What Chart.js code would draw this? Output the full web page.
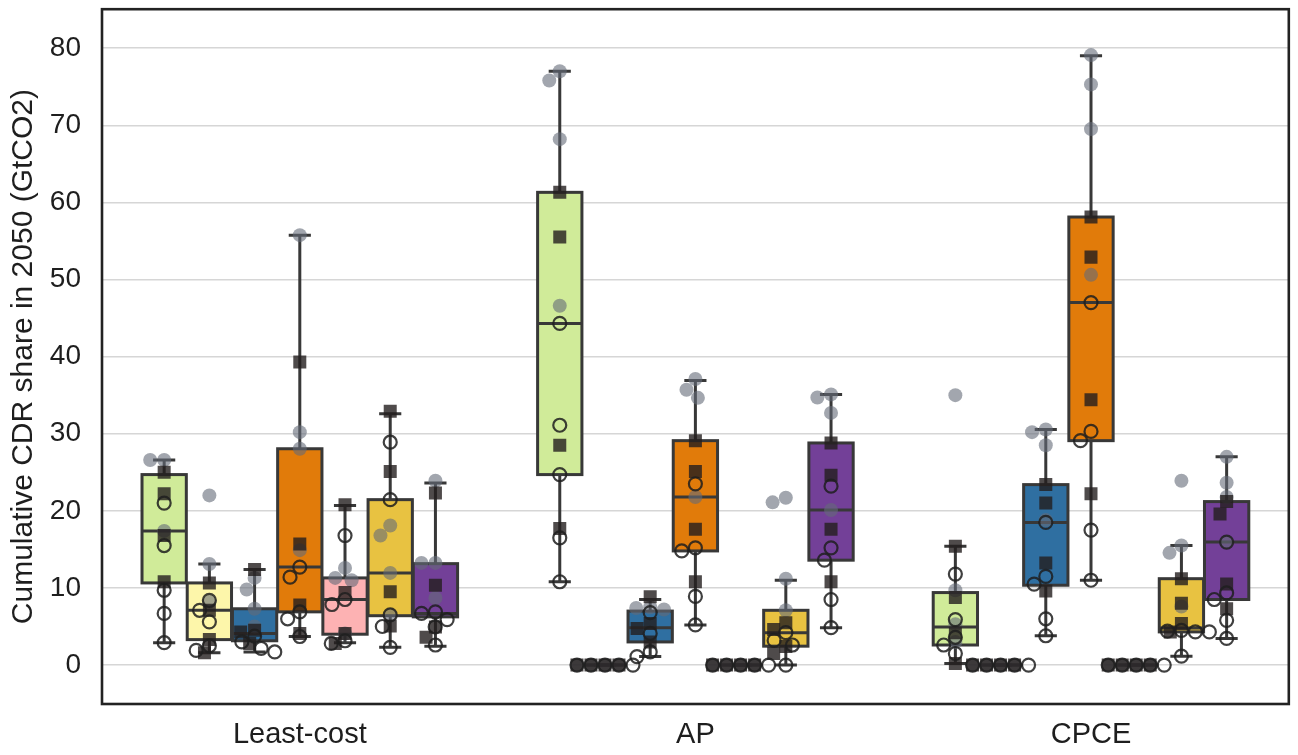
<!DOCTYPE html>
<html>
<head>
<meta charset="utf-8">
<script src="https://cdn.jsdelivr.net/npm/chart.js@4.4.1/dist/chart.umd.min.js"></script>
<style>
  html, body { margin: 0; padding: 0; background: #ffffff; }
  #wrap { width: 1298px; height: 755px; position: relative; }
</style>
</head>
<body>
<div id="wrap"><canvas id="chart"></canvas></div>
<script>
// ---- data -------------------------------------------------------------
const categories = ['Least-cost', 'AP', 'CPCE'];
const yTickValues = [0, 10, 20, 30, 40, 50, 60, 70, 80];

// Box statistics per category: [lower whisker, Q1, median, Q3, upper whisker]
// Points per category: grey = filled grey circles, square = dark squares, ring = open circles
const limeStats  = [[2.9, 10.65, 17.4, 24.7, 26.6], [10.8, 24.7, 44.3, 61.3, 77.0], [0.2, 2.6, 4.95, 9.4, 15.4]];
const limeGrey   = [[26.6, 26.6, 17.4], [77.0, 75.8, 68.2, 46.6], [35.0, 9.7, 5.3, 3.0]];
const limeSquare = [[25.0, 22.2, 16.8, 10.8], [61.3, 55.5, 28.5, 17.7], [15.4, 8.75, 4.2, 0.2]];
const limeRing   = [[21.0, 15.5, 9.7, 6.7, 2.9], [44.3, 31.1, 24.7, 16.5, 10.8], [11.8, 5.9, 3.6, 2.6, 1.5]];

const creamStats  = [[1.6, 3.3, 7.1, 10.65, 13.1], [0, 0, 0, 0, 0], [0, 0, 0, 0, 0]];
const creamGrey   = [[22.0, 13.1, 8.2], [0, 0, 0, 0], [0, 0, 0, 0]];
const creamSquare = [[10.65, 7.1, 3.3, 1.6], [0, 0, 0, 0], [0, 0, 0, 0]];
const creamRing   = [[8.4, 7.1, 5.6, 2.5, 1.9], [0, 0, 0, 0, 0], [0, 0, 0, 0, 0]];

const blueStats  = [[1.7, 3.15, 4.1, 7.3, 12.4], [1.1, 3.0, 4.85, 7.0, 8.5], [3.8, 10.35, 18.5, 23.4, 30.55]];
const blueGrey   = [[11.3, 9.8, 7.3, 5.0], [7.5, 7.4, 7.2], [30.55, 30.2, 28.5, 18.8]];
const blueSquare = [[12.4, 4.5, 4.3, 2.8], [8.85, 5.4, 4.75, 3.0], [23.4, 21.0, 13.25, 9.6]];
const blueRing   = [[3.75, 3.0, 2.15, 1.7], [6.8, 4.1, 1.7, 1.1], [18.5, 11.5, 10.5, 6.0, 3.8]];

const orangeStats  = [[3.7, 6.9, 12.7, 28.05, 55.75], [5.2, 14.8, 21.8, 29.1, 36.9], [11.0, 29.1, 47.0, 58.1, 79.0]];
const orangeGrey   = [[55.75, 30.2, 28.05, 14.9], [37.1, 35.7, 34.65, 21.8], [79.1, 75.3, 69.5, 50.6]];
const orangeSquare = [[39.3, 15.7, 7.8, 4.1], [29.1, 25.1, 17.6, 10.8], [58.1, 52.9, 34.4, 22.2]];
const orangeRing   = [[12.7, 11.4, 6.9, 6.0, 3.7], [23.5, 15.2, 14.8, 8.9, 5.2], [47.0, 30.3, 29.1, 17.5, 11.0]];

const pinkStats  = [[2.9, 4.0, 8.5, 11.3, 20.7], [0, 0, 0, 0, 0], [0, 0, 0, 0, 0]];
const pinkGrey   = [[12.6, 11.3, 11.0, 4.1], [0, 0, 0, 0], [0, 0, 0, 0]];
const pinkSquare = [[20.8, 9.4, 4.1, 2.8], [0, 0, 0, 0], [0, 0, 0, 0]];
const pinkRing   = [[16.8, 8.5, 7.85, 3.15, 2.8], [0, 0, 0, 0, 0], [0, 0, 0, 0, 0]];

const goldStats  = [[2.3, 6.4, 11.95, 21.45, 32.6], [0, 2.45, 4.2, 7.1, 11.0], [1.15, 4.3, 4.8, 11.2, 15.5]];
const goldGrey   = [[18.1, 16.8, 11.95, 6.5], [21.7, 21.1, 11.2, 7.1], [23.9, 15.5, 14.55, 7.6]];
const goldSquare = [[32.9, 25.1, 9.5, 5.05], [5.5, 4.6, 2.4, 1.5], [11.2, 8.0, 5.4, 4.3]];
const goldRing   = [[28.9, 21.45, 6.5, 5.0, 2.3], [4.2, 3.2, 2.6, 0.0], [4.5, 4.4, 4.3, 4.3, 1.15]];

const purpleStats  = [[2.45, 6.25, 6.7, 13.15, 23.6], [4.85, 13.6, 20.1, 28.8, 35.1], [3.45, 8.5, 15.95, 21.2, 27.0]];
const purpleGrey   = [[23.9, 13.25, 13.25, 8.7], [35.1, 34.7, 32.7, 20.1], [27.0, 23.65, 21.8, 15.95]];
const purpleSquare = [[22.3, 10.35, 4.95, 3.6], [28.8, 24.6, 17.6, 10.8], [21.2, 19.6, 10.5, 7.3]];
const purpleRing   = [[6.9, 6.7, 5.9, 4.95, 2.6], [23.2, 15.2, 13.6, 8.5, 4.85], [15.95, 9.35, 8.5, 5.8, 3.45]];

// ---- styling ------------------------------------------------------------
const hueFill = ['#d0eb99', '#fdf6aa', '#2f6fa1', '#e17b0a', '#fdb2b3', '#e8c241', '#734098'];
const edgeColor = '#383838';
const FONT = "'Liberation Sans', Arial, Helvetica, sans-serif";
const TEXT = '#1e1e1e';
const GROUP_WIDTH = 0.8;
const N_HUES = 7;
const SLOT = GROUP_WIDTH / N_HUES;
const MARK_D = 14;   // marker footprint (px) used to spread overlapping points

const hues = [
  { stats: limeStats,   grey: limeGrey,   square: limeSquare,   ring: limeRing },
  { stats: creamStats,  grey: creamGrey,  square: creamSquare,  ring: creamRing },
  { stats: blueStats,   grey: blueGrey,   square: blueSquare,   ring: blueRing },
  { stats: orangeStats, grey: orangeGrey, square: orangeSquare, ring: orangeRing },
  { stats: pinkStats,   grey: pinkGrey,   square: pinkSquare,   ring: pinkRing },
  { stats: goldStats,   grey: goldGrey,   square: goldSquare,   ring: goldRing },
  { stats: purpleStats, grey: purpleGrey, square: purpleSquare, ring: purpleRing }
];

const hueOffset = h => (h - (N_HUES - 1) / 2) * SLOT;

const markerStyles = {
  grey:   { pointStyle: 'circle', pointRadius: 7,   backgroundColor: 'rgba(100,106,120,0.6)', borderColor: 'rgba(0,0,0,0)', borderWidth: 0, order: 2 },
  square: { pointStyle: 'rect',   pointRadius: 9.2, backgroundColor: 'rgba(35,30,30,0.8)',   borderColor: 'rgba(0,0,0,0)', borderWidth: 0, order: 1 },
  ring:   { pointStyle: 'circle', pointRadius: 6.5, backgroundColor: 'rgba(0,0,0,0)',        borderColor: 'rgba(30,30,30,0.85)', borderWidth: 2.2, order: 0 }
};

const datasets = [];
hues.forEach((hue, h) => {
  ['grey', 'square', 'ring'].forEach(kind => {
    const data = [];
    hue[kind].forEach((vals, c) => {
      vals.forEach(v => data.push({ x: c + hueOffset(h), y: v, c: c, base: c + hueOffset(h) }));
    });
    const st = markerStyles[kind];
    datasets.push({
      label: kind + h,
      data: data,
      pointStyle: st.pointStyle,
      pointRadius: st.pointRadius,
      pointHoverRadius: st.pointRadius,
      backgroundColor: st.backgroundColor,
      borderColor: st.borderColor,
      borderWidth: st.borderWidth,
      order: st.order
    });
  });
});

// beeswarm: place each point at the offset nearest the centre that does not overlap
function swarm(ys, d) {
  const idx = ys.map((y, i) => i).sort((a, b) => ys[a] - ys[b]);
  const placed = [];
  const offs = new Array(ys.length).fill(0);
  idx.forEach(i => {
    const y = ys[i];
    const cands = [0];
    placed.forEach(p => {
      const dy = Math.abs(p.y - y);
      if (dy < d) {
        const dx = Math.sqrt(d * d - dy * dy);
        cands.push(p.x + dx, p.x - dx);
      }
    });
    cands.sort((a, b) => (Math.abs(a) - Math.abs(b)) || (a - b));
    let best = cands[0];
    for (const cx of cands) {
      if (placed.every(p => (p.x - cx) ** 2 + (p.y - y) ** 2 >= d * d - 0.01)) { best = cx; break; }
    }
    placed.push({ x: best, y: y });
    offs[i] = best;
  });
  return offs;
}

// boxes, whiskers and medians drawn beneath the points
const boxPlugin = {
  id: 'boxes',
  beforeDatasetsDraw(chart) {
    const { ctx, scales: { x, y } } = chart;
    const slotPx = x.getPixelForValue(SLOT) - x.getPixelForValue(0);
    const half = slotPx * 0.98 / 2;
    ctx.save();
    ctx.lineWidth = 3;
    ctx.strokeStyle = edgeColor;
    ctx.lineCap = 'butt';
    hues.forEach((hue, h) => {
      hue.stats.forEach((s, c) => {
        const cx = x.getPixelForValue(c + hueOffset(h));
        const [lo, q1, med, q3, hi] = s.map(v => y.getPixelForValue(v));
        ctx.beginPath();
        ctx.moveTo(cx, q3); ctx.lineTo(cx, hi);
        ctx.moveTo(cx, q1); ctx.lineTo(cx, lo);
        ctx.moveTo(cx - half / 2, hi); ctx.lineTo(cx + half / 2, hi);
        ctx.moveTo(cx - half / 2, lo); ctx.lineTo(cx + half / 2, lo);
        ctx.stroke();
        ctx.fillStyle = hueFill[h];
        ctx.fillRect(cx - half, q3, 2 * half, q1 - q3);
        ctx.strokeRect(cx - half, q3, 2 * half, q1 - q3);
        ctx.beginPath();
        ctx.moveTo(cx - half, med); ctx.lineTo(cx + half, med);
        ctx.stroke();
      });
    });
    ctx.restore();
  },
  afterDraw(chart) {
    const { ctx, chartArea: a } = chart;
    ctx.save();
    ctx.lineWidth = 2.6;
    ctx.strokeStyle = '#222222';
    ctx.strokeRect(a.left, a.top, a.right - a.left, a.bottom - a.top);
    ctx.restore();
  }
};

const chart = new Chart(document.getElementById('chart'), {
  type: 'scatter',
  data: { datasets: datasets },
  plugins: [boxPlugin],
  options: {
    responsive: true,
    maintainAspectRatio: false,
    animation: false,
    devicePixelRatio: 1,
    layout: { padding: { top: 8, right: 4, left: 0, bottom: 0 } },
    plugins: { legend: { display: false }, tooltip: { enabled: false } },
    scales: {
      x: {
        type: 'linear',
        min: -0.5,
        max: 2.5,
        afterBuildTicks: s => { s.ticks = categories.map((_, i) => ({ value: i })); },
        afterFit: s => { s.height = 51; s.paddingLeft = 0; s.paddingRight = 0; },
        grid: { display: false, drawTicks: false },
        border: { display: false },
        ticks: {
          padding: 14,
          autoSkip: false,
          maxRotation: 0,
          color: TEXT,
          font: { family: FONT, size: 29 },
          callback: v => categories[v] ?? ''
        }
      },
      y: {
        type: 'linear',
        min: -5.05,
        max: 85.05,
        afterBuildTicks: s => { s.ticks = yTickValues.map(v => ({ value: v })); },
        afterFit: s => { s.width = 102; s.paddingTop = 0; s.paddingBottom = 0; },
        grid: { color: '#d6d6d6', lineWidth: 1.5, drawTicks: false },
        border: { display: false },
        ticks: {
          padding: 21,
          color: TEXT,
          font: { family: FONT, size: 28 }
        },
        title: {
          display: true,
          text: 'Cumulative CDR share in 2050 (GtCO2)',
          color: TEXT,
          font: { family: FONT, size: 30 },
          padding: { top: 6, bottom: 0 }
        }
      }
    }
  }
});

// spread overlapping points of each group sideways using the rendered scales
(function spreadPoints() {
  const sx = chart.scales.x, sy = chart.scales.y;
  chart.data.datasets.forEach(ds => {
    const groups = {};
    ds.data.forEach((p, i) => { (groups[p.c] = groups[p.c] || []).push(i); });
    Object.values(groups).forEach(idx => {
      const ys = idx.map(i => sy.getPixelForValue(ds.data[i].y));
      const offs = swarm(ys, MARK_D);
      idx.forEach((i, k) => {
        const basePx = sx.getPixelForValue(ds.data[i].base);
        ds.data[i].x = sx.getValueForPixel(basePx + offs[k]);
      });
    });
  });
  chart.update('none');
})();
</script>
</body>
</html>
